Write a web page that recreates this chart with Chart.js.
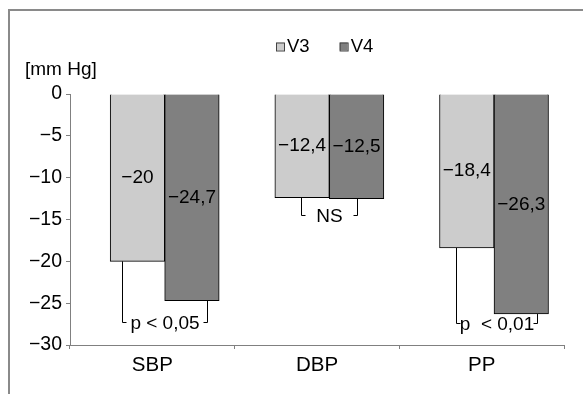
<!DOCTYPE html>
<html><head><meta charset="utf-8">
<script src="https://cdn.jsdelivr.net/npm/chart.js@4.4.1/dist/chart.umd.min.js"></script>
<style>
html,body{margin:0;padding:0;background:#fff;overflow:hidden}
#wrap{position:relative;width:583px;height:394px;overflow:hidden}
#frame{position:absolute;left:8px;top:9px;width:700px;height:500px;border-left:2px solid #8a8a8a;border-top:2px solid #8a8a8a}
canvas{position:absolute;left:0;top:0}
</style></head><body>
<div id="wrap"><div id="frame"></div><canvas id="c" width="583" height="394"></canvas></div>
<script>
// ---- data ----
const categories = ['SBP', 'DBP', 'PP'];
const seriesNames = ['V3', 'V4'];
const v3Values = [-20, -12.4, -18.4];
const v4Values = [-24.7, -12.5, -26.3];
const yMin = -30, yMax = 0, yStep = 5;
const sigLabels = ['p < 0,05', 'NS', 'p  < 0,01'];
const yAxisTitle = '[mm Hg]';

// ---- layout / style ----
const FONT = "'Liberation Sans', Arial, sans-serif";
const FS_LABEL = 19, FS_YTICK = 19.5, FS_XTICK = 20.5, FS_LEGEND = 18.5, FS_TITLE = 19;
const barShift = 0.075;
const bracketLayout = {
  level: [-27.3, -14.5, -27.4],
  insetLeft: [12, 26, 16],
  insetRight: [12, 27, 12]
};
const fmt = v => (v < 0 ? '\u2212' : '') + String(Math.abs(v)).replace('.', ',');

const annotPlugin = {
  id: 'annot',
  afterDatasetsDraw(chart) {
    const ctx = chart.ctx, ys = chart.scales.y;
    ctx.save();
    ctx.font = FS_LABEL + 'px ' + FONT;
    ctx.fillStyle = '#000';
    ctx.textAlign = 'center';
    ctx.textBaseline = 'middle';
    chart.data.datasets.forEach((ds, di) => {
      const meta = chart.getDatasetMeta(di);
      meta.data.forEach((bar, i) => {
        ctx.fillText(fmt(ds.data[i].y), bar.x, (bar.y + bar.base) / 2);
      });
    });
    const m0 = chart.getDatasetMeta(0), m1 = chart.getDatasetMeta(1);
    ctx.strokeStyle = '#000';
    ctx.lineWidth = 1;
    sigLabels.forEach((lab, i) => {
      const b0 = m0.data[i], b1 = m1.data[i];
      const L = Math.round(b0.x - b0.width / 2 + bracketLayout.insetLeft[i]) + 0.5;
      const R = Math.round(b1.x + b1.width / 2 - bracketLayout.insetRight[i]) + 0.5;
      const by = Math.round(ys.getPixelForValue(bracketLayout.level[i])) + 0.5;
      const stub = 4;
      ctx.beginPath();
      ctx.moveTo(L, b0.y); ctx.lineTo(L, by); ctx.lineTo(L + stub, by);
      ctx.moveTo(R, b1.y); ctx.lineTo(R, by); ctx.lineTo(R - stub, by);
      ctx.stroke();
      ctx.fillText(lab, (L + R) / 2, by + 1.5);
    });
    ctx.restore();
  },
  afterDraw(chart) {
    const ctx = chart.ctx;
    ctx.save();
    ctx.textBaseline = 'middle';
    ctx.textAlign = 'left';
    ctx.fillStyle = '#000';
    ctx.font = FS_TITLE + 'px ' + FONT;
    ctx.fillText(yAxisTitle, 25, 70);
    ctx.font = FS_LEGEND + 'px ' + FONT;
    let x = chart.chartArea.left + 206;
    const ly = 46.5;
    chart.data.datasets.forEach(ds => {
      ctx.fillStyle = ds.backgroundColor;
      ctx.fillRect(x, ly - 4, 8, 8);
      ctx.strokeStyle = '#444';
      ctx.lineWidth = 1;
      ctx.strokeRect(x + 0.5, ly - 3.5, 8, 8);
      ctx.fillStyle = '#000';
      ctx.fillText(ds.label, x + 11, ly);
      x += 11 + ctx.measureText(ds.label).width + 30;
    });
    ctx.restore();
  }
};

const mkData = arr => arr.map((v, i) => ({ x: i, y: v }));

new Chart(document.getElementById('c'), {
  type: 'bar',
  data: {
    labels: categories,
    datasets: [
      { label: seriesNames[0], data: mkData(v3Values), xAxisID: 'xb', backgroundColor: '#cccccc', borderColor: '#000', borderWidth: 1, barThickness: 54.5 },
      { label: seriesNames[1], data: mkData(v4Values), xAxisID: 'xb', backgroundColor: '#808080', borderColor: '#000', borderWidth: 1, barThickness: 54.5 }
    ]
  },
  options: {
    responsive: false,
    animation: false,
    layout: { padding: { top: 94, right: 19, bottom: 0, left: 0 } },
    plugins: { legend: { display: false }, tooltip: { enabled: false } },
    scales: {
      x: {
        type: 'category', offset: true,
        grid: { offset: true, drawOnChartArea: false, tickLength: 4, color: '#808080' },
        border: { color: '#808080' },
        ticks: { color: '#000', font: { family: FONT, size: FS_XTICK }, padding: 4 },
        afterFit: s => { s.height = 49; }
      },
      xb: {
        type: 'linear', display: false, offset: false, grid: { offset: false },
        min: -0.5 - barShift, max: categories.length - 0.5 - barShift
      },
      y: {
        min: yMin, max: yMax,
        ticks: { stepSize: yStep, callback: v => fmt(v), color: '#000', font: { family: FONT, size: FS_YTICK }, padding: 4 },
        grid: { drawOnChartArea: false, tickLength: 4, color: '#808080' },
        border: { color: '#808080' },
        afterFit: s => { s.width = 70; }
      }
    }
  },
  plugins: [annotPlugin]
});
</script>
</body></html>
